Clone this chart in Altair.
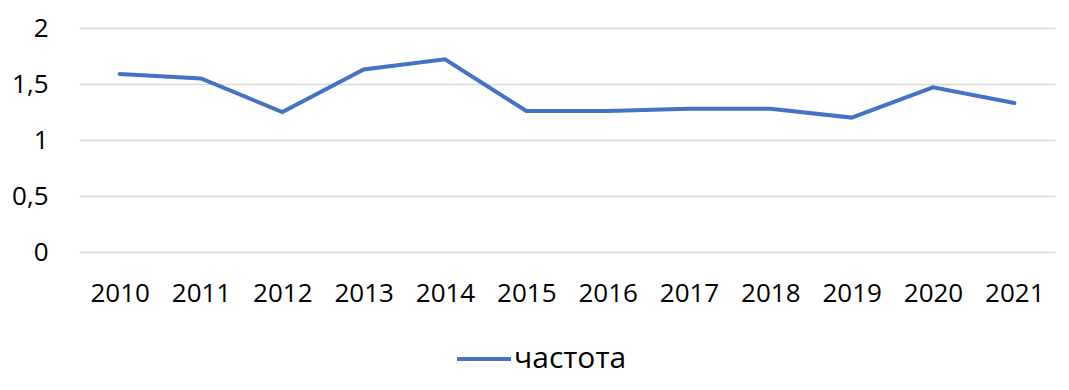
import altair as alt
import pandas as pd

years = ["2010", "2011", "2012", "2013", "2014", "2015",
         "2016", "2017", "2018", "2019", "2020", "2021"]
values = [1.59, 1.55, 1.25, 1.63, 1.72, 1.26,
          1.26, 1.28, 1.28, 1.20, 1.47, 1.33]
series = "частота"

df = pd.DataFrame({"year": years, "value": values, "series": [series] * len(years)})

FONT = "Open Sans"

chart = alt.Chart(df).mark_line(strokeWidth=4, strokeCap="round", strokeJoin="miter").encode(
    x=alt.X("year:N", sort=years,
            scale=alt.Scale(type="point", padding=0.5),
            axis=alt.Axis(title=None, labelAngle=0, ticks=False, domain=False, grid=False,
                          labelFontSize=26, labelFont=FONT, labelColor="#000000",
                          labelPadding=41, labelBaseline="middle")),
    y=alt.Y("value:Q",
            scale=alt.Scale(domain=[0, 2], nice=False, zero=True),
            axis=alt.Axis(title=None, values=[0, 0.5, 1, 1.5, 2], ticks=False, domain=False,
                          gridColor="#D9D9D9", gridWidth=1.3,
                          labelFontSize=26, labelFont=FONT, labelColor="#000000",
                          labelPadding=31,
                          labelExpr="replace(toString(datum.value), '.', ',')")),
    color=alt.Color("series:N",
                    scale=alt.Scale(domain=[series], range=["#4472C4"]),
                    legend=alt.Legend(title=None, orient="none", legendX=376, legendY=302,
                                      symbolType="stroke", symbolSize=2916,
                                      symbolStrokeWidth=4, padding=0,
                                      labelFontSize=30, labelFont=FONT, labelColor="#000000",
                                      labelOffset=1)),
).properties(
    width=976,
    height=224,
    autosize=alt.AutoSizeParams(type="none"),
    padding={"left": 71, "top": 20, "right": 6, "bottom": 130},
).configure(background="#FFFFFF").configure_view(stroke=None, strokeWidth=0)

chart.save("out.html", embed_options={"renderer": "svg", "actions": False})
